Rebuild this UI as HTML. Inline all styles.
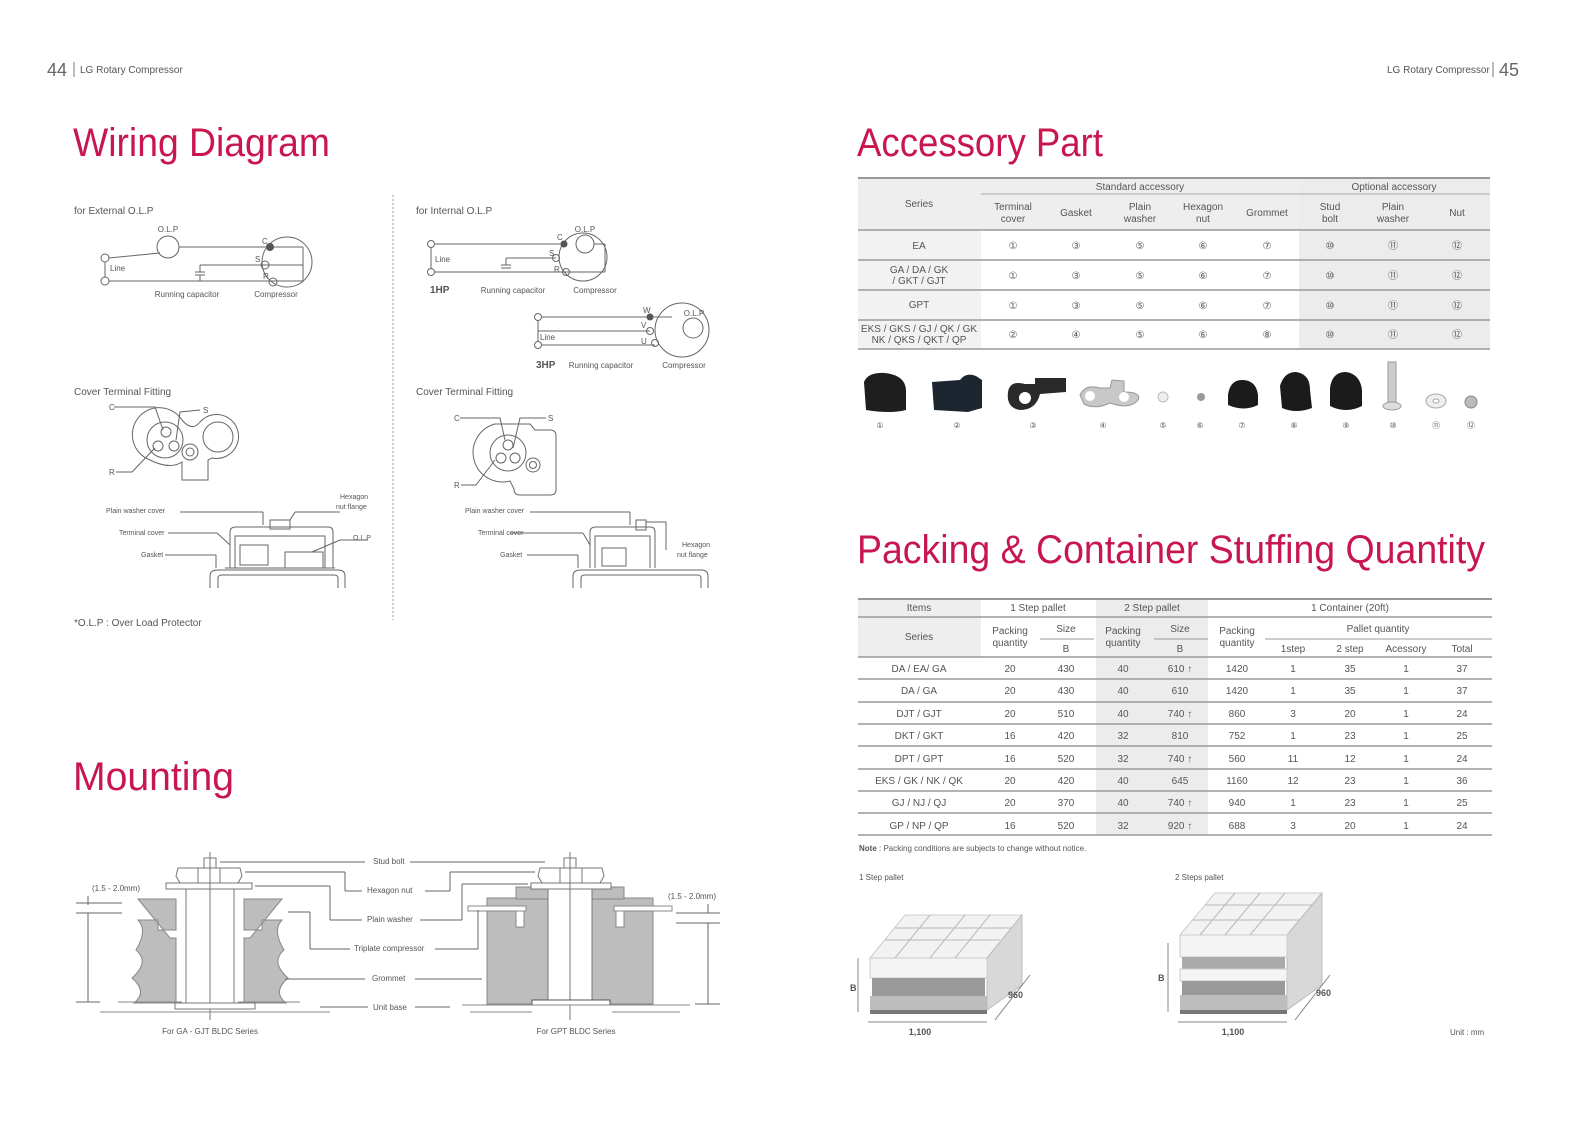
<!DOCTYPE html>
<html><head><meta charset="utf-8"><style>
html,body{margin:0;padding:0;background:#fff;width:1587px;height:1122px;overflow:hidden}
svg{display:block;font-family:"Liberation Sans",sans-serif}
</style></head><body>
<svg width="1587" height="1122" viewBox="0 0 1587 1122" xmlns="http://www.w3.org/2000/svg">
<defs>
<style>
.t{fill:#555;font-size:10px}
.s{fill:#555;font-size:8px}
.h{fill:#c8174f;font-size:40px}
.c{text-anchor:middle}
.ln{stroke:#666;stroke-width:1;fill:none}
.g{fill:#bdbdbd;stroke:#888;stroke-width:1}
</style>
</defs>
<!-- page headers -->
<text x="47" y="76" fill="#666" font-size="18">44</text>
<line x1="74" y1="62" x2="74" y2="77" stroke="#777"/>
<text x="80" y="73" class="t">LG  Rotary Compressor</text>
<text x="1387" y="73" class="t">LG  Rotary Compressor</text>
<line x1="1493" y1="62" x2="1493" y2="77" stroke="#777"/>
<text x="1499" y="76" fill="#666" font-size="18">45</text>

<text x="73" y="156" class="h" textLength="257" lengthAdjust="spacingAndGlyphs">Wiring Diagram</text>
<text x="857" y="156" class="h" textLength="246" lengthAdjust="spacingAndGlyphs">Accessory Part</text>
<text x="857" y="563" class="h" textLength="628" lengthAdjust="spacingAndGlyphs">Packing &amp; Container Stuffing Quantity</text>
<text x="73" y="790" class="h" textLength="161" lengthAdjust="spacingAndGlyphs">Mounting</text>

<!-- divider -->
<line x1="393" y1="195" x2="393" y2="620" stroke="#999" stroke-dasharray="2,2"/>

<!-- External OLP -->
<text x="74" y="214" class="t" font-size="11">for External O.L.P</text>
<g class="ln">
<circle cx="105" cy="258" r="4"/><circle cx="105" cy="281" r="4"/>
<line x1="105" y1="262" x2="105" y2="277"/>
<line x1="109" y1="258" x2="160" y2="253"/>
<circle cx="168" cy="247" r="11"/>
<line x1="179" y1="247" x2="270" y2="247"/>
<circle cx="287" cy="262" r="25"/>
<line x1="270" y1="247" x2="303" y2="247"/><line x1="303" y1="247" x2="303" y2="281"/>
<line x1="200" y1="265" x2="303" y2="265"/><line x1="200" y1="265" x2="200" y2="272"/>
<line x1="195" y1="272" x2="205" y2="272"/><line x1="195" y1="275" x2="205" y2="275"/>
<line x1="200" y1="275" x2="200" y2="281"/>
<line x1="109" y1="281" x2="303" y2="281"/>
<circle cx="265" cy="265" r="4"/><circle cx="273" cy="282" r="4"/>
</g>
<circle cx="270" cy="247" r="4" fill="#555"/>
<text x="168" y="232" class="s c">O.L.P</text>
<text x="110" y="271" class="s">Line</text>
<text x="262" y="244" class="s">C</text><text x="255" y="262" class="s">S</text><text x="263" y="279" class="s">R</text>
<text x="187" y="297" class="s c">Running capacitor</text>
<text x="276" y="297" class="s c">Compressor</text>

<!-- Internal OLP 1HP -->
<text x="416" y="214" class="t" font-size="11">for Internal O.L.P</text>
<g class="ln">
<circle cx="431" cy="244" r="3.5"/><circle cx="431" cy="272" r="3.5"/>
<line x1="431" y1="248" x2="431" y2="268"/>
<line x1="435" y1="244" x2="564" y2="244"/>
<line x1="435" y1="272" x2="605" y2="272"/>
<line x1="506" y1="258" x2="556" y2="258"/><line x1="506" y1="258" x2="506" y2="265"/>
<line x1="501" y1="265" x2="511" y2="265"/><line x1="501" y1="268" x2="511" y2="268"/>
<circle cx="583" cy="257" r="24"/>
<circle cx="585" cy="244" r="9"/>
<line x1="594" y1="244" x2="605" y2="244"/><line x1="605" y1="244" x2="605" y2="272"/>
<circle cx="556" cy="258" r="3.5"/><circle cx="566" cy="272" r="3.5"/>
</g>
<circle cx="564" cy="244" r="3.5" fill="#555"/>
<text x="585" y="232" class="s c">O.L.P</text>
<text x="435" y="262" class="s">Line</text>
<text x="557" y="240" class="s">C</text><text x="549" y="256" class="s">S</text><text x="554" y="272" class="s">R</text>
<text x="430" y="293" font-size="10" font-weight="bold" fill="#555">1HP</text>
<text x="513" y="293" class="s c">Running capacitor</text>
<text x="595" y="293" class="s c">Compressor</text>

<!-- 3HP -->
<g class="ln">
<circle cx="538" cy="317" r="3.5"/><circle cx="538" cy="345" r="3.5"/>
<line x1="538" y1="321" x2="538" y2="341"/>
<line x1="542" y1="317" x2="672" y2="317"/>
<line x1="538" y1="331" x2="650" y2="331"/>
<line x1="542" y1="345" x2="655" y2="345"/>
<circle cx="682" cy="330" r="27"/>
<circle cx="693" cy="328" r="10"/>
<circle cx="650" cy="331" r="3.5"/><circle cx="655" cy="343" r="3.5"/>
</g>
<circle cx="650" cy="317" r="3.5" fill="#555"/>
<text x="694" y="316" class="s c">O.L.P</text>
<text x="540" y="340" class="s">Line</text>
<text x="643" y="313" class="s">W</text><text x="641" y="328" class="s">V</text><text x="641" y="344" class="s">U</text>
<text x="536" y="368" font-size="10" font-weight="bold" fill="#555">3HP</text>
<text x="601" y="368" class="s c">Running capacitor</text>
<text x="684" y="368" class="s c">Compressor</text>

<!-- Cover terminal fitting left -->
<text x="74" y="395" class="t" font-size="11">Cover Terminal Fitting</text>
<g class="ln">
<path d="M150,460 A27,27 0 1 1 182,420 Q192,432 200,422 A22,22 0 1 1 212,458 L208,460 L208,480 L182,480 L182,462 Q170,470 150,460 Z"/>
<circle cx="165" cy="440" r="18"/>
<circle cx="218" cy="437" r="15"/>
<circle cx="190" cy="452" r="8"/><circle cx="190" cy="452" r="4"/>
<circle cx="166" cy="432" r="5"/><circle cx="158" cy="446" r="5"/><circle cx="174" cy="446" r="5"/>
<path d="M114,407 L155,407 L163,430"/><path d="M200,410 L180,412 L176,440"/><path d="M116,472 L132,472 L155,448"/>
</g>
<text x="109" y="410" class="s">C</text><text x="203" y="413" class="s">S</text><text x="109" y="475" class="s">R</text>

<!-- Cover terminal fitting right -->
<text x="416" y="395" class="t" font-size="11">Cover Terminal Fitting</text>
<g class="ln">
<path d="M495,424 L530,424 L535,430 L550,430 Q556,430 556,436 L556,490 Q556,495 550,495 L520,495 Q514,495 514,489 L510,481 A28,28 0 0 1 495,424 Z"/>
<circle cx="508" cy="453" r="18"/>
<circle cx="533" cy="465" r="7"/><circle cx="533" cy="465" r="3.5"/>
<circle cx="508" cy="445" r="5"/><circle cx="501" cy="458" r="5"/><circle cx="515" cy="458" r="5"/>
<path d="M460,418 L500,418 L505,440"/><path d="M546,418 L520,418 L513,448"/><path d="M461,485 L476,485 L495,460"/>
</g>
<text x="454" y="421" class="s">C</text><text x="548" y="421" class="s">S</text><text x="454" y="488" class="s">R</text>

<!-- Terminal section left -->
<g class="ln">
<path d="M210,588 L210,576 Q210,570 218,570 L338,570 Q345,570 345,576 L345,588"/>
<path d="M218,588 L218,578 Q218,575 222,575 L334,575 Q338,575 338,578 L338,588"/>
<line x1="225" y1="568" x2="335" y2="568"/>
<path d="M230,568 L230,532 Q230,527 236,527 L328,527 Q333,527 333,532 L333,568"/>
<path d="M235,568 L235,536 L325,536 L325,568"/>
<rect x="240" y="545" width="28" height="20"/>
<rect x="285" y="552" width="38" height="16"/>
<rect x="270" y="520" width="20" height="9"/>
<line x1="180" y1="512" x2="263" y2="512"/><line x1="263" y1="512" x2="263" y2="525"/>
<line x1="168" y1="533" x2="217" y2="533"/><line x1="217" y1="533" x2="230" y2="545"/>
<line x1="165" y1="555" x2="216" y2="555"/><line x1="216" y1="555" x2="216" y2="568"/>
<line x1="340" y1="512" x2="295" y2="512"/><line x1="295" y1="512" x2="290" y2="520"/>
<line x1="368" y1="540" x2="340" y2="540"/><line x1="340" y1="540" x2="312" y2="552"/>
</g>
<text x="106" y="513" font-size="7" fill="#555">Plain washer cover</text>
<text x="119" y="535" font-size="7" fill="#555">Terminal cover</text>
<text x="141" y="557" font-size="7" fill="#555">Gasket</text>
<text x="340" y="499" font-size="7" fill="#555">Hexagon</text>
<text x="336" y="509" font-size="7" fill="#555">nut flange</text>
<text x="353" y="540" font-size="7" fill="#555">O.L.P</text>

<!-- Terminal section right -->
<g class="ln">
<path d="M573,588 L573,576 Q573,570 581,570 L701,570 Q708,570 708,576 L708,588"/>
<path d="M581,588 L581,578 Q581,575 585,575 L697,575 Q701,575 701,578 L701,588"/>
<path d="M590,568 L590,532 Q590,527 596,527 L650,527 Q655,527 655,532 L655,568"/>
<path d="M595,568 L595,536 L650,536 L650,568"/>
<rect x="602" y="548" width="24" height="18"/>
<rect x="636" y="520" width="10" height="10"/>
<line x1="530" y1="512" x2="630" y2="512"/><line x1="630" y1="512" x2="630" y2="525"/>
<line x1="510" y1="533" x2="583" y2="533"/><line x1="583" y1="533" x2="590" y2="545"/>
<line x1="527" y1="555" x2="578" y2="555"/><line x1="578" y1="555" x2="578" y2="568"/>
<line x1="666" y1="550" x2="666" y2="522"/><line x1="666" y1="522" x2="646" y2="522"/>
</g>
<text x="465" y="513" font-size="7" fill="#555">Plain washer cover</text>
<text x="478" y="535" font-size="7" fill="#555">Terminal cover</text>
<text x="500" y="557" font-size="7" fill="#555">Gasket</text>
<text x="682" y="547" font-size="7" fill="#555">Hexagon</text>
<text x="677" y="557" font-size="7" fill="#555">nut flange</text>

<text x="74" y="626" class="t" font-size="9">*O.L.P : Over Load Protector</text>

<!-- Mounting left -->
<g>
<path class="g" d="M138,899 L176,899 L176,930 L158,930 L158,920 L138,920 Q148,930 136,950 Q150,962 132,978 Q148,992 134,1003 L176,1003 L176,938 L170,938 Z" />
<path class="g" d="M282,899 L244,899 L244,930 L262,930 L262,920 L282,920 Q272,930 284,950 Q270,962 288,978 Q272,992 286,1003 L244,1003 L244,938 L250,938 Z" />
<rect x="186" y="889" width="48" height="114" fill="#fff" stroke="#777"/>
<rect x="166" y="883" width="86" height="6" fill="#fff" stroke="#777"/>
<path d="M178,868 L240,868 L242,876 L238,883 L180,883 L176,876 Z" fill="#fff" stroke="#777"/>
<line x1="198" y1="868" x2="198" y2="883" stroke="#777"/><line x1="220" y1="868" x2="220" y2="883" stroke="#777"/>
<rect x="204" y="858" width="12" height="10" fill="#fff" stroke="#777"/>
<line x1="210" y1="852" x2="210" y2="1020" stroke="#777"/>
<rect x="175" y="1003" width="80" height="6" fill="#fff" stroke="#777"/>
<line x1="118" y1="1002" x2="182" y2="1002" stroke="#888"/><line x1="238" y1="1002" x2="300" y2="1002" stroke="#888"/>
<line x1="100" y1="1012" x2="330" y2="1012" stroke="#888"/>
</g>
<!-- Mounting right -->
<g>
<rect x="487" y="898" width="166" height="106" fill="#bdbdbd" stroke="#888"/>
<rect x="516" y="887" width="108" height="12" fill="#bdbdbd" stroke="#888"/>
<rect x="468" y="906" width="58" height="5" fill="#fff" stroke="#888"/>
<rect x="614" y="906" width="58" height="5" fill="#fff" stroke="#888"/>
<rect x="516" y="911" width="8" height="16" fill="#fff" stroke="#888"/>
<rect x="616" y="911" width="8" height="16" fill="#fff" stroke="#888"/>
<rect x="548" y="889" width="44" height="114" fill="#fff" stroke="#777"/>
<rect x="531" y="883" width="80" height="6" fill="#fff" stroke="#777"/>
<path d="M540,868 L602,868 L604,876 L600,883 L542,883 L538,876 Z" fill="#fff" stroke="#777"/>
<line x1="560" y1="868" x2="560" y2="883" stroke="#777"/><line x1="582" y1="868" x2="582" y2="883" stroke="#777"/>
<rect x="564" y="858" width="12" height="10" fill="#fff" stroke="#777"/>
<line x1="570" y1="852" x2="570" y2="1020" stroke="#777"/>
<rect x="532" y="1000" width="78" height="5" fill="#fff" stroke="#555"/>
<line x1="462" y1="1005" x2="690" y2="1005" stroke="#888"/>
<line x1="470" y1="1012" x2="532" y2="1012" stroke="#888"/><line x1="612" y1="1012" x2="680" y2="1012" stroke="#888"/>
</g>
<g class="ln" stroke="#777">
<line x1="220" y1="862" x2="365" y2="862"/><line x1="410" y1="862" x2="545" y2="862"/>
<line x1="245" y1="872" x2="345" y2="872"/><line x1="345" y1="872" x2="345" y2="891"/><line x1="345" y1="891" x2="362" y2="891"/>
<line x1="425" y1="891" x2="450" y2="891"/><line x1="450" y1="891" x2="450" y2="872"/><line x1="450" y1="872" x2="535" y2="872"/>
<line x1="255" y1="886" x2="330" y2="886"/><line x1="330" y1="886" x2="330" y2="920"/><line x1="330" y1="920" x2="362" y2="920"/>
<line x1="420" y1="920" x2="462" y2="920"/><line x1="462" y1="920" x2="462" y2="884"/><line x1="462" y1="884" x2="528" y2="884"/>
<line x1="288" y1="912" x2="310" y2="912"/><line x1="310" y1="912" x2="310" y2="949"/><line x1="310" y1="949" x2="350" y2="949"/>
<line x1="435" y1="949" x2="478" y2="949"/><line x1="478" y1="949" x2="478" y2="910"/>
<line x1="285" y1="979" x2="365" y2="979"/><line x1="415" y1="979" x2="482" y2="979"/>
<line x1="320" y1="1007" x2="368" y2="1007"/><line x1="415" y1="1007" x2="450" y2="1007"/>
<line x1="76" y1="903" x2="122" y2="903"/><line x1="76" y1="913" x2="122" y2="913"/>
<line x1="88" y1="896" x2="88" y2="905"/><line x1="88" y1="913" x2="88" y2="1002"/><line x1="76" y1="1002" x2="100" y2="1002"/>
<line x1="676" y1="913" x2="720" y2="913"/><line x1="676" y1="923" x2="720" y2="923"/>
<line x1="708" y1="904" x2="708" y2="913"/><line x1="708" y1="923" x2="708" y2="1004"/><line x1="695" y1="1004" x2="720" y2="1004"/>
</g>
<text x="373" y="864" class="s" font-size="9">Stud bolt</text>
<text x="367" y="893" class="s" font-size="9">Hexagon nut</text>
<text x="367" y="922" class="s" font-size="9">Plain washer</text>
<text x="354" y="951" class="s" font-size="9">Triplate compressor</text>
<text x="372" y="981" class="s" font-size="9">Grommet</text>
<text x="373" y="1010" class="s" font-size="9">Unit base</text>
<text x="92" y="891" class="s" font-size="9">(1.5 - 2.0mm)</text>
<text x="668" y="899" class="s" font-size="9">(1.5 - 2.0mm)</text>
<text x="210" y="1034" class="s c" font-size="9">For GA - GJT BLDC Series</text>
<text x="576" y="1034" class="s c" font-size="9">For GPT BLDC Series</text>

<!-- Accessory table -->
<rect x="858" y="179" width="632" height="51" fill="#eeeeee"/>
<rect x="858" y="230" width="123" height="119" fill="#f2f2f2"/>
<rect x="1299" y="179" width="191" height="170" fill="#ececec"/>
<line x1="858" y1="178" x2="1490" y2="178" stroke="#999" stroke-width="2"/>
<line x1="981" y1="194" x2="1490" y2="194" stroke="#aaa"/>
<g stroke="#999" stroke-width="1.5">
<line x1="858" y1="230" x2="1490" y2="230"/><line x1="858" y1="260" x2="1490" y2="260"/>
<line x1="858" y1="290" x2="1490" y2="290"/><line x1="858" y1="320" x2="1490" y2="320"/>
<line x1="858" y1="349" x2="1490" y2="349"/>
</g>
<g class="t c">
<text x="1140" y="190">Standard accessory</text><text x="1394" y="190">Optional accessory</text>
<text x="919" y="207">Series</text>
<text x="1013" y="210">Terminal</text><text x="1013" y="222">cover</text>
<text x="1076" y="216">Gasket</text>
<text x="1140" y="210">Plain</text><text x="1140" y="222">washer</text>
<text x="1203" y="210">Hexagon</text><text x="1203" y="222">nut</text>
<text x="1267" y="216">Grommet</text>
<text x="1330" y="210">Stud</text><text x="1330" y="222">bolt</text>
<text x="1393" y="210">Plain</text><text x="1393" y="222">washer</text>
<text x="1457" y="216">Nut</text>
<text x="919" y="249">EA</text>
<text x="919" y="273">GA / DA / GK</text><text x="919" y="284">/ GKT / GJT</text>
<text x="919" y="308">GPT</text>
<text x="919" y="332">EKS / GKS / GJ / QK / GK</text><text x="919" y="343">NK / QKS / QKT / QP</text>
</g>
<g class="t c" font-size="10">
<text x="1013" y="249">①</text><text x="1076" y="249">③</text><text x="1140" y="249">⑤</text><text x="1203" y="249">⑥</text><text x="1267" y="249">⑦</text><text x="1330" y="249">⑩</text><text x="1393" y="249">⑪</text><text x="1457" y="249">⑫</text>
<text x="1013" y="279">①</text><text x="1076" y="279">③</text><text x="1140" y="279">⑤</text><text x="1203" y="279">⑥</text><text x="1267" y="279">⑦</text><text x="1330" y="279">⑩</text><text x="1393" y="279">⑪</text><text x="1457" y="279">⑫</text>
<text x="1013" y="309">①</text><text x="1076" y="309">③</text><text x="1140" y="309">⑤</text><text x="1203" y="309">⑥</text><text x="1267" y="309">⑦</text><text x="1330" y="309">⑩</text><text x="1393" y="309">⑪</text><text x="1457" y="309">⑫</text>
<text x="1013" y="338">②</text><text x="1076" y="338">④</text><text x="1140" y="338">⑤</text><text x="1203" y="338">⑥</text><text x="1267" y="338">⑧</text><text x="1330" y="338">⑩</text><text x="1393" y="338">⑪</text><text x="1457" y="338">⑫</text>
</g>
<!-- accessory photos -->
<g fill="#1e1e1e">
<path d="M864,382 Q868,372 885,373 Q905,375 906,390 L906,410 Q890,414 866,410 Z"/>
<path d="M932,382 L960,380 Q966,372 976,376 L982,380 L982,408 L968,412 L934,410 Z" fill="#1c2630"/>
<path d="M1008,392 Q1010,380 1025,384 L1035,384 L1035,378 L1066,378 L1066,392 L1040,394 Q1036,410 1020,410 Q1006,408 1008,392 Z" fill="#2a2a2a"/>
<circle cx="1025" cy="398" r="6" fill="#fff"/>
</g>
<g fill="#c8c8c8" stroke="#999">
<path d="M1080,395 Q1085,384 1100,388 L1110,388 L1112,380 L1124,381 L1124,392 Q1142,392 1138,400 Q1130,410 1110,403 Q1095,410 1084,404 Z"/>
</g>
<circle cx="1090" cy="396" r="5" fill="#fff"/><circle cx="1124" cy="397" r="5" fill="#fff"/>
<circle cx="1163" cy="397" r="5" fill="#eee" stroke="#bbb"/>
<circle cx="1201" cy="397" r="4" fill="#999"/>
<path d="M1228,395 Q1230,380 1242,380 Q1256,380 1258,395 L1258,405 Q1244,412 1228,405 Z" fill="#1b1b1b"/>
<path d="M1280,386 Q1284,372 1296,372 Q1310,374 1310,390 L1312,408 Q1296,414 1282,408 Z" fill="#1b1b1b"/>
<path d="M1330,388 Q1332,372 1346,372 Q1360,374 1362,390 L1362,406 Q1346,414 1330,406 Z" fill="#1b1b1b"/>
<rect x="1388" y="362" width="8" height="42" fill="#ccc" stroke="#999"/>
<ellipse cx="1392" cy="406" rx="9" ry="4" fill="#ddd" stroke="#999"/>
<ellipse cx="1436" cy="401" rx="10" ry="7" fill="#eee" stroke="#aaa"/><ellipse cx="1436" cy="401" rx="3" ry="2" fill="#fff" stroke="#aaa"/>
<circle cx="1471" cy="402" r="6" fill="#bbb" stroke="#888"/>
<g class="s c" font-size="10">
<text x="880" y="428">①</text><text x="957" y="428">②</text><text x="1033" y="428">③</text><text x="1103" y="428">④</text><text x="1163" y="428">⑤</text><text x="1200" y="428">⑥</text><text x="1242" y="428">⑦</text><text x="1294" y="428">⑧</text><text x="1346" y="428">⑨</text><text x="1393" y="428">⑩</text><text x="1436" y="428">⑪</text><text x="1471" y="428">⑫</text>
</g>

<!-- Packing table -->
<rect x="858" y="599" width="123" height="58" fill="#eeeeee"/>
<rect x="1096" y="599" width="112" height="236" fill="#ececec"/>
<line x1="858" y1="599" x2="1492" y2="599" stroke="#999" stroke-width="2"/>
<g stroke="#999" stroke-width="1.5">
<line x1="858" y1="617" x2="1492" y2="617"/>
<line x1="858" y1="657" x2="1492" y2="657"/>
<line x1="858" y1="679" x2="1492" y2="679"/><line x1="858" y1="702" x2="1492" y2="702"/>
<line x1="858" y1="724" x2="1492" y2="724"/><line x1="858" y1="746" x2="1492" y2="746"/>
<line x1="858" y1="769" x2="1492" y2="769"/><line x1="858" y1="791" x2="1492" y2="791"/>
<line x1="858" y1="813" x2="1492" y2="813"/><line x1="858" y1="835" x2="1492" y2="835"/>
</g>
<g stroke="#999"><line x1="1040" y1="639" x2="1094" y2="639"/><line x1="1154" y1="639" x2="1208" y2="639"/><line x1="1265" y1="639" x2="1492" y2="639"/></g>
<g class="t c">
<text x="919" y="611">Items</text><text x="1038" y="611">1 Step pallet</text><text x="1152" y="611">2 Step pallet</text><text x="1350" y="611">1 Container (20ft)</text>
<text x="919" y="640">Series</text>
<text x="1010" y="634">Packing</text><text x="1010" y="646">quantity</text>
<text x="1066" y="632">Size</text><text x="1066" y="652">B</text>
<text x="1123" y="634">Packing</text><text x="1123" y="646">quantity</text>
<text x="1180" y="632">Size</text><text x="1180" y="652">B</text>
<text x="1237" y="634">Packing</text><text x="1237" y="646">quantity</text>
<text x="1378" y="632">Pallet quantity</text>
<text x="1293" y="652">1step</text><text x="1350" y="652">2 step</text><text x="1406" y="652">Acessory</text><text x="1462" y="652">Total</text>
</g>
<g class="t c">
<text x="919" y="672">DA / EA/ GA</text><text x="1010" y="672">20</text><text x="1066" y="672">430</text><text x="1123" y="672">40</text><text x="1180" y="672">610 ↑</text><text x="1237" y="672">1420</text><text x="1293" y="672">1</text><text x="1350" y="672">35</text><text x="1406" y="672">1</text><text x="1462" y="672">37</text>
<text x="919" y="694">DA / GA</text><text x="1010" y="694">20</text><text x="1066" y="694">430</text><text x="1123" y="694">40</text><text x="1180" y="694">610</text><text x="1237" y="694">1420</text><text x="1293" y="694">1</text><text x="1350" y="694">35</text><text x="1406" y="694">1</text><text x="1462" y="694">37</text>
<text x="919" y="717">DJT / GJT</text><text x="1010" y="717">20</text><text x="1066" y="717">510</text><text x="1123" y="717">40</text><text x="1180" y="717">740 ↑</text><text x="1237" y="717">860</text><text x="1293" y="717">3</text><text x="1350" y="717">20</text><text x="1406" y="717">1</text><text x="1462" y="717">24</text>
<text x="919" y="739">DKT / GKT</text><text x="1010" y="739">16</text><text x="1066" y="739">420</text><text x="1123" y="739">32</text><text x="1180" y="739">810</text><text x="1237" y="739">752</text><text x="1293" y="739">1</text><text x="1350" y="739">23</text><text x="1406" y="739">1</text><text x="1462" y="739">25</text>
<text x="919" y="762">DPT / GPT</text><text x="1010" y="762">16</text><text x="1066" y="762">520</text><text x="1123" y="762">32</text><text x="1180" y="762">740 ↑</text><text x="1237" y="762">560</text><text x="1293" y="762">11</text><text x="1350" y="762">12</text><text x="1406" y="762">1</text><text x="1462" y="762">24</text>
<text x="919" y="784">EKS / GK / NK / QK</text><text x="1010" y="784">20</text><text x="1066" y="784">420</text><text x="1123" y="784">40</text><text x="1180" y="784">645</text><text x="1237" y="784">1160</text><text x="1293" y="784">12</text><text x="1350" y="784">23</text><text x="1406" y="784">1</text><text x="1462" y="784">36</text>
<text x="919" y="806">GJ / NJ / QJ</text><text x="1010" y="806">20</text><text x="1066" y="806">370</text><text x="1123" y="806">40</text><text x="1180" y="806">740 ↑</text><text x="1237" y="806">940</text><text x="1293" y="806">1</text><text x="1350" y="806">23</text><text x="1406" y="806">1</text><text x="1462" y="806">25</text>
<text x="919" y="829">GP / NP / QP</text><text x="1010" y="829">16</text><text x="1066" y="829">520</text><text x="1123" y="829">32</text><text x="1180" y="829">920 ↑</text><text x="1237" y="829">688</text><text x="1293" y="829">3</text><text x="1350" y="829">20</text><text x="1406" y="829">1</text><text x="1462" y="829">24</text>
</g>
<text x="859" y="851" class="s" font-size="9"><tspan font-weight="bold">Note</tspan> : Packing conditions are subjects to change without notice.</text>

<!-- pallets -->
<text x="859" y="880" class="s" font-size="9">1 Step pallet</text>
<text x="1175" y="880" class="s" font-size="9">2 Steps pallet</text>
<g>
<polygon points="870,958 905,915 1022,915 987,958" fill="#f2f2f2" stroke="#ccc"/>
<polygon points="987,958 1022,915 1022,985 987,1010" fill="#d8d8d8" stroke="#bbb"/>
<rect x="870" y="958" width="117" height="20" fill="#f4f4f4" stroke="#ccc"/>
<rect x="872" y="978" width="113" height="18" fill="#9a9a9a"/>
<rect x="870" y="996" width="117" height="14" fill="#bdbdbd"/>
<rect x="870" y="1010" width="117" height="4" fill="#777"/>
<g stroke="#bbb"><line x1="895" y1="958" x2="930" y2="915"/><line x1="930" y1="958" x2="965" y2="915"/><line x1="955" y1="958" x2="990" y2="915"/><line x1="885" y1="940" x2="1000" y2="940"/><line x1="895" y1="928" x2="1012" y2="928"/></g>
<g stroke="#888"><line x1="868" y1="1022" x2="987" y2="1022"/><line x1="858" y1="958" x2="858" y2="1012"/><line x1="995" y1="1020" x2="1030" y2="975"/></g>
<text x="850" y="991" font-size="9" font-weight="bold" fill="#555">B</text>
<text x="920" y="1035" class="c" font-size="9" font-weight="bold" fill="#555">1,100</text>
<text x="1008" y="998" font-size="9" font-weight="bold" fill="#555">960</text>
</g>
<g>
<polygon points="1180,935 1215,893 1322,893 1287,935" fill="#f2f2f2" stroke="#ccc"/>
<polygon points="1287,935 1322,893 1322,985 1287,1010" fill="#d8d8d8" stroke="#bbb"/>
<rect x="1180" y="935" width="107" height="22" fill="#f4f4f4" stroke="#ccc"/>
<rect x="1182" y="957" width="103" height="12" fill="#aaa"/>
<rect x="1180" y="969" width="107" height="12" fill="#f4f4f4" stroke="#ccc"/>
<rect x="1182" y="981" width="103" height="14" fill="#9a9a9a"/>
<rect x="1180" y="995" width="107" height="15" fill="#bdbdbd"/>
<rect x="1180" y="1010" width="107" height="4" fill="#777"/>
<g stroke="#bbb"><line x1="1200" y1="935" x2="1235" y2="893"/><line x1="1225" y1="935" x2="1260" y2="893"/><line x1="1250" y1="935" x2="1285" y2="893"/><line x1="1192" y1="920" x2="1300" y2="920"/><line x1="1205" y1="905" x2="1312" y2="905"/></g>
<g stroke="#888"><line x1="1178" y1="1022" x2="1287" y2="1022"/><line x1="1168" y1="943" x2="1168" y2="1012"/><line x1="1295" y1="1020" x2="1330" y2="975"/></g>
<text x="1158" y="981" font-size="9" font-weight="bold" fill="#555">B</text>
<text x="1233" y="1035" class="c" font-size="9" font-weight="bold" fill="#555">1,100</text>
<text x="1316" y="996" font-size="9" font-weight="bold" fill="#555">960</text>
</g>
<text x="1450" y="1035" class="s" font-size="9">Unit : mm</text>
</svg>
</body></html>
